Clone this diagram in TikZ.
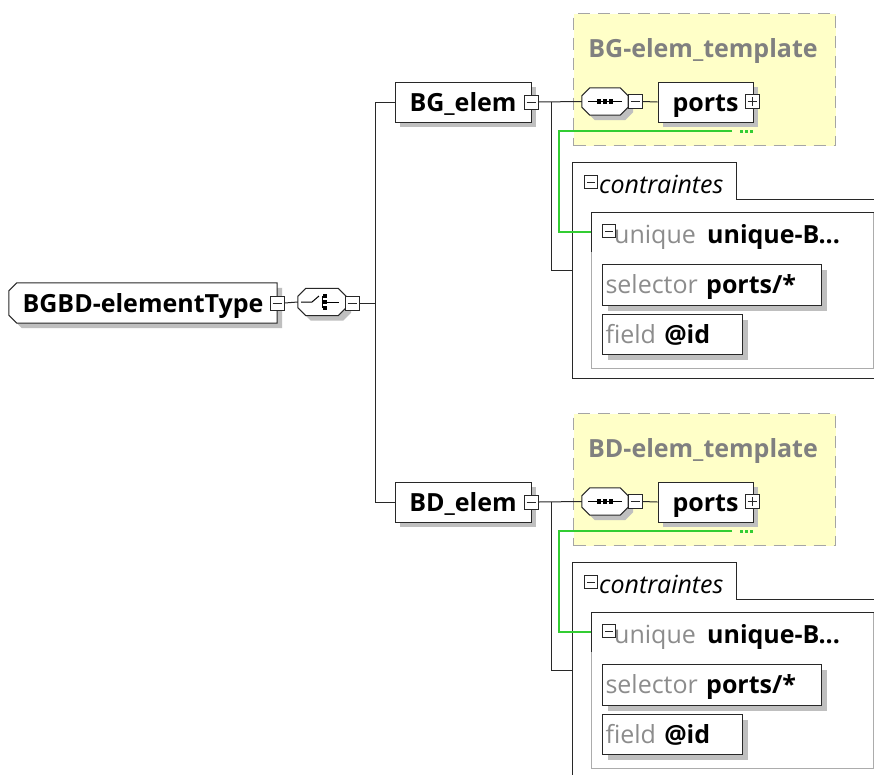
\documentclass[tikz,border=0pt]{standalone}
\usepackage{fontspec}
\setmainfont{Open Sans}
\usetikzlibrary{shadows}
\pgfdeclarelayer{bg}
\pgfdeclarelayer{shp}
\pgfsetlayers{bg,shp,main}
\definecolor{tyellow}{RGB}{255,255,200}
\definecolor{tborder}{RGB}{165,165,165}
\definecolor{ttext}{RGB}{128,128,128}
\definecolor{kgreen}{RGB}{50,205,50}
\definecolor{kgray}{RGB}{140,140,140}
\definecolor{kline}{RGB}{40,40,40}
\tikzset{
 shad/.style={drop shadow={shadow xshift=5pt, shadow yshift=-5pt, fill=gray!50, opacity=1}},
 elembox/.style={draw=kline, fill=white, line width=1pt, shad, inner sep=0pt, text height=19pt, text depth=0pt, font=\fontsize{25}{27}\selectfont\bfseries},
 bare/.style={draw=none, inner sep=0pt},
 tog/.style={draw=kline, fill=white, line width=1pt, minimum size=14pt, inner sep=0pt,
   path picture={\draw[line width=1pt] ([xshift=2.5pt]path picture bounding box.west) -- ([xshift=-2.5pt]path picture bounding box.east);}},
 togplus/.style={draw=kline, fill=white, line width=1pt, minimum size=14pt, inner sep=0pt,
   path picture={\draw[line width=1pt] ([xshift=2.5pt]path picture bounding box.west) -- ([xshift=-2.5pt]path picture bounding box.east);
   \draw[line width=1pt] ([yshift=2.5pt]path picture bounding box.south) -- ([yshift=-2.5pt]path picture bounding box.north);}},
 tmpl/.style={draw=tborder, fill=tyellow, line width=1pt, dash pattern=on 12pt off 8pt, inner sep=0pt},
 ttitle/.style={text=ttext, font=\fontsize{25}{27}\selectfont\bfseries, inner sep=0pt},
 smallbox/.style={draw=kline, fill=white, line width=1pt, shad, inner xsep=3pt, inner ysep=0pt, text height=17.5pt, text depth=0pt, align=left, font=\fontsize{25}{27}\selectfont},
 conn/.style={draw=kline, line width=1pt},
 gconn/.style={draw=kgreen, line width=1.3pt},
}
% octagon (compositor) drawn behind the named node #1, chamfer #2
\newcommand\octshape[2]{%
\begin{pgfonlayer}{shp}
\fill[gray!50] ([xshift=5pt+#2,yshift=-5pt]#1.north west) -- ([xshift=5pt-#2,yshift=-5pt]#1.north east) -- ([xshift=5pt,yshift=-5pt-#2]#1.north east) -- ([xshift=5pt,yshift=-5pt+#2]#1.south east) -- ([xshift=5pt-#2,yshift=-5pt]#1.south east) -- ([xshift=5pt+#2,yshift=-5pt]#1.south west) -- ([xshift=5pt,yshift=-5pt+#2]#1.south west) -- ([xshift=5pt,yshift=-5pt-#2]#1.north west) -- cycle;
\filldraw[fill=white, draw=kline, line width=1pt] ([xshift=#2]#1.north west) -- ([xshift=-#2]#1.north east) -- ([yshift=-#2]#1.north east) -- ([yshift=#2]#1.south east) -- ([xshift=-#2]#1.south east) -- ([xshift=#2]#1.south west) -- ([yshift=#2]#1.south west) -- ([yshift=-#2]#1.north west) -- cycle;
\end{pgfonlayer}}
\newcommand\xblock[4]{%
\begin{scope}[shift={(0,#4)}]
 \begin{pgfonlayer}{bg}
 \node[tmpl, anchor=north west, minimum width=262pt, minimum height=132pt] (#1tmp) at (573,13) {};
 \end{pgfonlayer}
 \node[ttitle] (#1ttl) at (703,51) {#3};
 \node[elembox, minimum width=136pt, minimum height=40pt] (#1e) at (463,102) {#2};
 \node[tog] (#1em) at (531,102) {};
 \node[bare, minimum width=46pt, minimum height=27pt] (#1s) at (605,101.5) {};
 \octshape{#1s}{8pt}
 \draw[line width=1pt] ([xshift=-17pt]#1s.center) -- ([xshift=17pt]#1s.center);
 \fill ([xshift=-6pt]#1s.center) +(-2.2,-2.2) rectangle +(2.2,2.2);
 \fill (#1s.center) +(-2.2,-2.2) rectangle +(2.2,2.2);
 \fill ([xshift=6pt]#1s.center) +(-2.2,-2.2) rectangle +(2.2,2.2);
 \node[tog] (#1sm) at (635,101.5) {};
 \node[elembox, minimum width=95pt, minimum height=40pt] (#1p) at (705.5,102) {ports};
 \node[togplus] (#1pm) at (752,101.5) {};
 \draw[conn] (#1em.east) -- (#1s.west);
 \draw[conn] (#1sm.east) -- (#1p.west);
 % contraintes
 \coordinate (#1j) at (551,102);
 \coordinate (#1cin) at (572,270);
 \draw[line width=1pt, draw=kline] (880,378) -- (572,378) -- (572,162) -- (736,162) -- (736,199) -- (880,199);
 \node[tog, minimum size=13pt] (#1cm) at (591,182) {};
 \node[anchor=base west, inner sep=0pt, font=\fontsize{25}{27}\selectfont\itshape] (#1ct) at (599,193) {contraintes};
 \draw[conn] (#1j) |- (#1cin);
 % unique
 \node[draw=gray!65, line width=1pt, anchor=north west, minimum width=282pt, minimum height=156pt, inner sep=0pt] (#1u) at (591,212) {};
 \draw[line width=1pt, draw=kline] ([yshift=-40pt]#1u.north west) -- (#1u.north west) -- (#1u.north east) -- (#1u.south east);
 \node[tog, minimum size=13pt] (#1um) at (609,231) {};
 \node[anchor=base west, inner sep=0pt, font=\fontsize{25}{27}\selectfont] (#1ut) at (614,243) {\textcolor{kgray}{unique}\hspace{0.45em}\textbf{unique-B...}};
 \node[smallbox, anchor=north west, text width=213pt, minimum height=41pt] (#1sel) at (602,264) {\textcolor{kgray}{selector} \textbf{ports/*}};
 \node[smallbox, anchor=north west, text width=134pt, minimum height=40pt] (#1fld) at (602,314) {\textcolor{kgray}{field} \textbf{@id}};
 % green key reference
 \coordinate (#1g) at (559,131);
 \coordinate (#1gend) at (732,131);
 \coordinate (#1uin) at (591,232);
 \draw[gconn] (#1gend) -- (#1g) |- (#1uin);
 \foreach \dx in {741.5,746.5,751.5} \fill[kgreen] (\dx,131) +(-1.5,-1.5) rectangle +(1.5,1.5);
\end{scope}}
\begin{document}
\begin{tikzpicture}[x=1pt,y=-1pt]
\useasboundingbox (0,0) rectangle (874,774);
\clip (0,0) rectangle (874,774);
\begin{pgfonlayer}{bg}
\fill[white] (0,0) rectangle (874,774);
\end{pgfonlayer}
\xblock{bg}{BG\_elem}{BG-elem\_template}{0}
\xblock{bd}{BD\_elem}{BD-elem\_template}{400}
% root
\node[bare, minimum width=268pt, minimum height=40pt, text height=19pt, text depth=0pt, font=\fontsize{25}{27}\selectfont\bfseries] (root) at (143,303) {BGBD-elementType};
\begin{pgfonlayer}{shp}
\fill[gray!50] ([xshift=13pt,yshift=-5pt]root.north west) -- ([xshift=5pt,yshift=-5pt]root.north east) -- ([xshift=5pt,yshift=-5pt]root.south east) -- ([xshift=13pt,yshift=-5pt]root.south west) -- ([xshift=5pt,yshift=3pt]root.south west) -- ([xshift=5pt,yshift=-13pt]root.north west) -- cycle;
\filldraw[fill=white, draw=kline, line width=1pt] ([xshift=8pt]root.north west) -- (root.north east) -- (root.south east) -- ([xshift=8pt]root.south west) -- ([yshift=8pt]root.south west) -- ([yshift=-8pt]root.north west) -- cycle;
\end{pgfonlayer}
\node[tog] (rootm) at (277,303) {};
\node[bare, minimum width=48pt, minimum height=27pt] (ch) at (322,302) {};
\octshape{ch}{8pt}
\draw[line width=1pt] (ch.center) +(-21,0) -- +(-10,0) -- +(-3,-6);
\draw[line width=1pt] (ch.center) +(0,-6) -- +(0,6);
\fill (ch.center) +(0.5,-8.2) rectangle +(5,-3.8);
\fill (ch.center) +(0.5,-2.2) rectangle +(5,2.2);
\fill (ch.center) +(0.5,3.8) rectangle +(5,8.2);
\draw[line width=1pt] (ch.center) +(4,0) -- +(17,0);
\node[tog] (chm) at (352,303) {};
\coordinate (vtop) at (375,102);
\coordinate (vbot) at (375,502);
\coordinate (vmid) at (375,303);
\draw[conn] (rootm.east) -- (ch.west);
\draw[conn] (chm.east) -- (vmid);
\draw[conn] (vtop) -- (vbot);
\draw[conn] (vtop) -- (bge.west);
\draw[conn] (vbot) -- (bde.west);
\end{tikzpicture}
\end{document}
